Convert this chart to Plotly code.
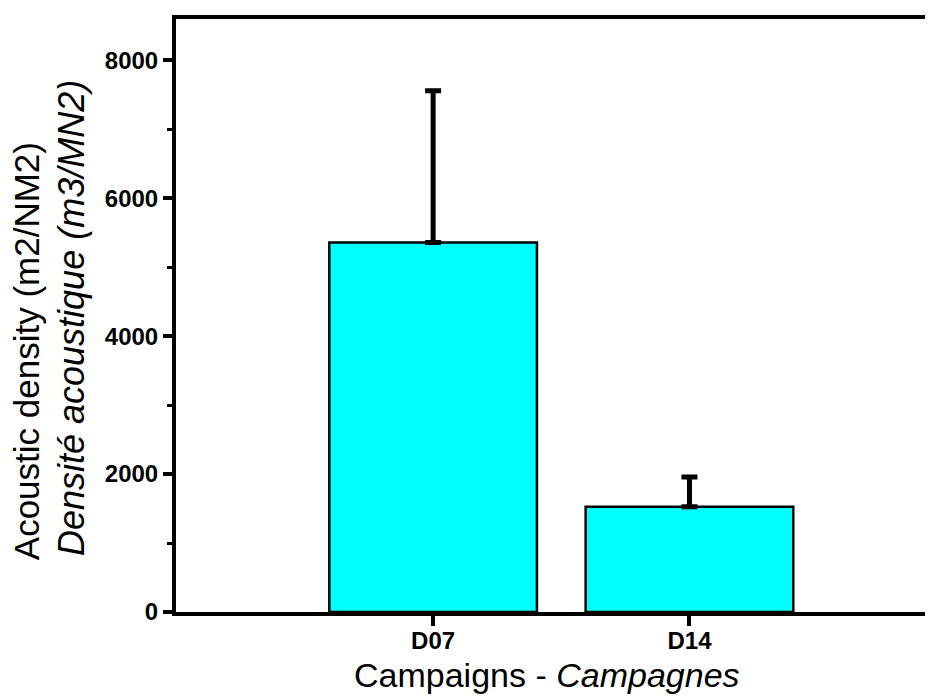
import plotly.graph_objects as go

campaigns = ['D07', 'D14']
density = [5360, 1525]
err_up = [2200, 432]

FONT = 'Liberation Sans, Arial, sans-serif'

fig = go.Figure()
fig.add_trace(go.Bar(
    x=campaigns,
    y=density,
    width=0.81,
    marker={'color': '#00FFFF', 'line': {'color': 'black', 'width': 2.5}},
    error_y={
        'type': 'data',
        'symmetric': False,
        'array': err_up,
        'arrayminus': [0, 0],
        'color': 'black',
        'thickness': 5,
        'width': 8,
    },
))

# page body has an 8px margin, so the figure is 8px smaller than the window
fig.update_layout(
    width=925,
    height=689,
    margin={'l': 168, 'r': 0, 't': 11, 'b': 85},
    plot_bgcolor='white',
    paper_bgcolor='white',
    showlegend=False,
    font={'family': FONT, 'color': 'black'},
    xaxis={
        'range': [-1.003, 1.95],
        'showline': True,
        'linecolor': 'black',
        'linewidth': 4,
        'mirror': True,
        'ticks': 'outside',
        'ticklen': 10,
        'tickwidth': 4,
        'tickcolor': 'black',
        'ticklabelstandoff': -6,
        'tickfont': {'size': 24, 'weight': 'bold', 'family': FONT},
        'showgrid': False,
    },
    yaxis={
        'range': [0, 8600],
        'tickvals': [0, 2000, 4000, 6000, 8000],
        'showline': True,
        'linecolor': 'black',
        'linewidth': 4,
        'ticks': 'outside',
        'ticklen': 9,
        'tickwidth': 4,
        'tickcolor': 'black',
        'tickfont': {'size': 24, 'weight': 'bold', 'family': FONT},
        'showgrid': False,
        'zeroline': False,
        'minor': {'ticks': 'outside', 'ticklen': 5, 'tickwidth': 3,
                  'tickcolor': 'black', 'dtick': 1000, 'tick0': 1000},
    },
    annotations=[
        dict(text='Acoustic density (m2/NM2)', xref='paper', yref='paper',
             x=0, y=0.084, xshift=-150, xanchor='center', yanchor='bottom',
             textangle=-90, showarrow=False, font={'size': 35, 'family': FONT}),
        dict(text='<i>Densité acoustique (m3/MN2)</i>', xref='paper', yref='paper',
             x=0, y=0.091, xshift=-105, xanchor='center', yanchor='bottom',
             textangle=-90, showarrow=False, font={'size': 36, 'family': FONT}),
        dict(text='Campaigns - <i>Campagnes</i>', xref='paper', yref='paper',
             x=0.49, y=-0.107, xanchor='center', yanchor='middle',
             showarrow=False, font={'size': 34, 'family': FONT}),
    ],
)

fig.write_html("out.html")
